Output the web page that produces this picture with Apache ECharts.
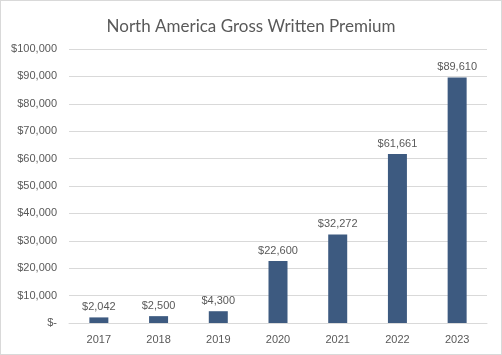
<!DOCTYPE html>
<html><head><meta charset="utf-8">
<script src="https://cdn.jsdelivr.net/npm/echarts@6/dist/echarts.min.js"></script>
<style>html,body{margin:0;padding:0;background:#fff}#c{width:502px;height:355px;box-sizing:border-box;border:1px solid #d9d9d9}</style>
</head><body><div id="c"></div>
<script>
const categories = ['2017','2018','2019','2020','2021','2022','2023'];
const premiums = [2042, 2500, 4300, 22600, 32272, 61661, 89610];
const yTicks = [0, 10000, 20000, 30000, 40000, 50000, 60000, 70000, 80000, 90000, 100000];

function money(v){ return v === 0 ? '$-' : '$' + v.toLocaleString('en-US'); }

const chart = echarts.init(document.getElementById('c'), null, {renderer:'canvas'});
chart.setOption({
  animation:false,
  title:{text:'North America Gross Written Premium',left:'center',top:12,
    textStyle:{fontFamily:'Lato',fontSize:17,fontWeight:'normal',color:'#595959'}},
  grid:{left:68,right:14,top:48,bottom:31},
  xAxis:{type:'category',data:categories,
    axisLine:{lineStyle:{color:'#d9d9d9'}},axisTick:{show:false},
    axisLabel:{color:'#595959',fontFamily:'Liberation Sans',fontSize:11,margin:11}},
  yAxis:{type:'value',min:yTicks[0],max:yTicks[yTicks.length-1],interval:10000,
    axisLine:{show:false},axisTick:{show:false},
    splitLine:{lineStyle:{color:'#d9d9d9'}},
    axisLabel:{color:'#595959',fontFamily:'Liberation Sans',fontSize:11,margin:12,formatter:money}},
  series:[{type:'bar',data:premiums,barWidth:19,
    itemStyle:{color:'#3d5a80'},
    label:{show:true,position:'top',distance:5,color:'#595959',fontFamily:'Liberation Sans',fontSize:11,formatter:p=>money(p.value)}}]
});
</script></body></html>
